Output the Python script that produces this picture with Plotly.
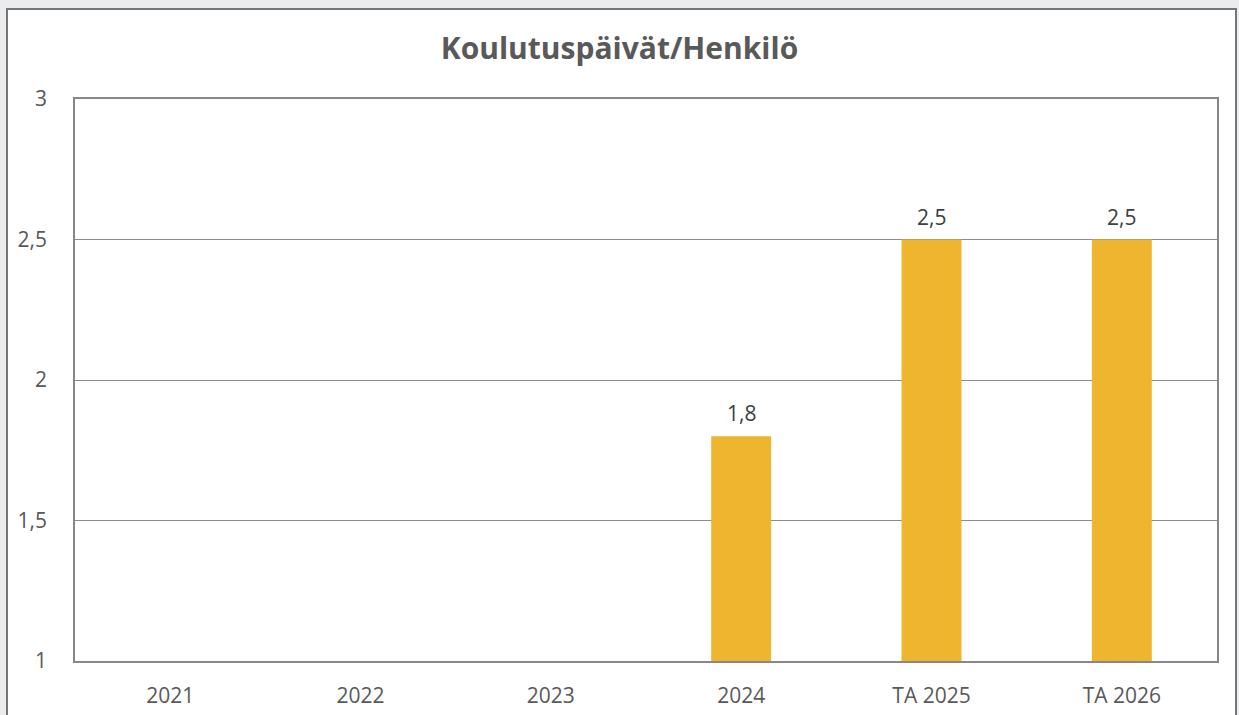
import plotly.graph_objects as go

categories = ["2021", "2022", "2023", "2024", "TA 2025", "TA 2026"]
values = [None, None, None, 1.8, 2.5, 2.5]
labels = [None, None, None, "1,8", "2,5", "2,5"]
y_ticks = [1, 1.5, 2, 2.5, 3]

W, H = 1239, 715
L, R, T, B = 75, 22, 99, 54
pw, ph = W - L - R, H - T - B

def px_x(x):
    return (x - L) / pw

def px_y(y):
    return (H - B - y) / ph

fig = go.Figure()
fig.add_trace(go.Bar(
    x=categories, y=values,
    marker=dict(color="#F0B52E", line=dict(width=0)),
    hoverinfo="x+y",
))

# data labels (category axis: annotation x is the category index)
for i, (v, t) in enumerate(zip(values, labels)):
    if v is not None:
        fig.add_annotation(x=i, y=v, xref="x", yref="y", text=t, showarrow=False,
                           yanchor="bottom", yshift=7,
                           font=dict(family="Open Sans", size=21, color="#404040"))

# outer frame (white card with grey border)
fig.add_shape(type="rect", xref="paper", yref="paper", layer="below",
              x0=px_x(7), x1=px_x(1236), y0=px_y(730), y1=px_y(9),
              fillcolor="white", line=dict(color="#767676", width=2))

fig.update_layout(
    width=W, height=H,
    margin=dict(l=L, r=R, t=T, b=B, pad=0, autoexpand=False),
    paper_bgcolor="#ebecee",
    plot_bgcolor="white",
    separators=", ",
    bargap=0.685,
    showlegend=False,
    title=dict(text="<b>Koulutuspäivät/Henkilö</b>", x=0.5, xanchor="center",
               y=1 - 48 / H, yanchor="middle",
               font=dict(family="Open Sans", size=30, color="#595959")),
    font=dict(family="Open Sans", color="#595959"),
)
fig.update_xaxes(
    type="category", categoryorder="array", categoryarray=categories,
    range=[-0.5, len(categories) - 0.5], automargin=False,
    showgrid=False, showline=True, mirror=True, linecolor="#888888", linewidth=1.5,
    ticks="", tickfont=dict(size=21, color="#595959"), ticklabelstandoff=15,
)
fig.update_yaxes(
    range=[1, 3], tickvals=y_ticks, showgrid=True, gridcolor="#8c8c8c", gridwidth=1,
    showline=True, mirror=True, linecolor="#888888", linewidth=1.5, zeroline=False,
    automargin=False,
    ticks="", tickfont=dict(size=21, color="#595959"), ticklabelstandoff=22,
)

fig.write_html("out.html", config={"displayModeBar": False})

with open("out.html", "r", encoding="utf-8") as f:
    html = f.read()
html = html.replace("<head>", "<head><style>html,body{margin:0;padding:0;overflow:hidden;}</style>", 1)
with open("out.html", "w", encoding="utf-8") as f:
    f.write(html)
